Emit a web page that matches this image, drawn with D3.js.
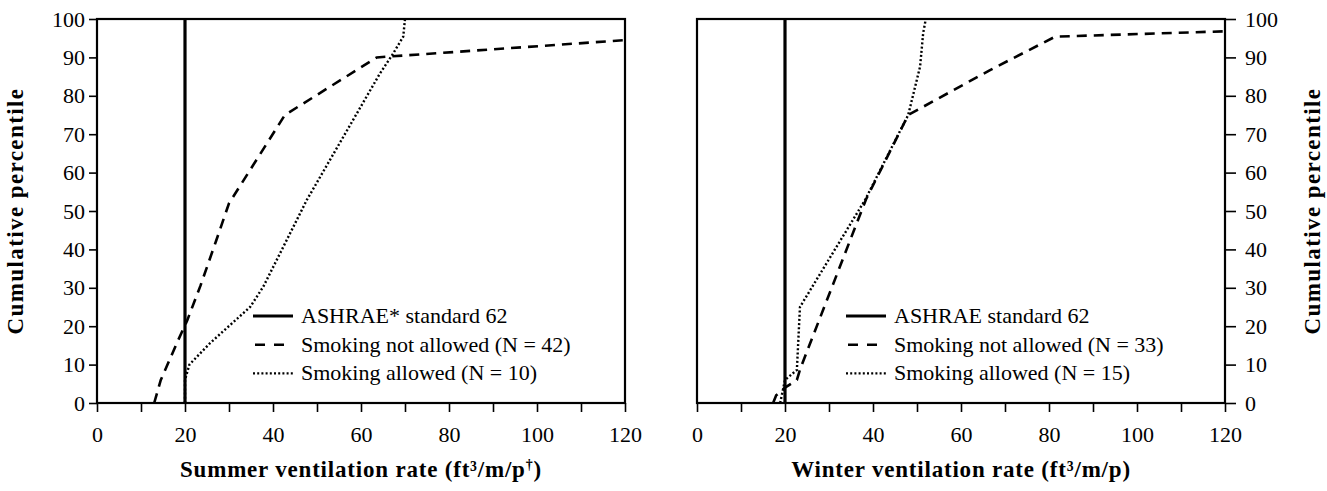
<!DOCTYPE html>
<html>
<head>
<meta charset="utf-8">
<script src="https://cdn.jsdelivr.net/npm/d3@7/dist/d3.min.js"></script>
<style>
body { margin: 0; background: #fff; }
text { font-family: 'Liberation Serif', 'Times New Roman', serif; fill: #000; }
</style>
</head>
<body>
<svg></svg>
<script>
'use strict'

// ventilation rate (ft3/m/p) vs cumulative percentile
const xTickValues = [0, 10, 20, 30, 40, 50, 60, 70, 80, 90, 100, 110, 120]
const xTickLabels = [0, 20, 40, 60, 80, 100, 120]
const yTickValues = [0, 10, 20, 30, 40, 50, 60, 70, 80, 90, 100]
const ashraeRate = 20

const summerNoSmoking = [[13, 0], [14.5, 6], [18.5, 16.5], [20.5, 21.5], [23.5, 30.5], [27, 42], [30, 52],
	[42.7, 75], [63.6, 90], [120, 94.5]]
const summerSmoking = [[20, 0], [20, 6], [21, 10], [25.7, 15.6], [34.8, 25], [37.8, 30.3], [47.7, 52.9],
	[64.3, 85.8], [67.3, 91], [69.6, 95.4], [70, 100]]
const winterNoSmoking = [[17.3, 0], [18, 2], [20, 4], [22.7, 6], [23.5, 9], [38.4, 53], [48, 75],
	[66.6, 86.7], [81.4, 95.4], [120, 96.8]]
const winterSmoking = [[18.9, 0], [20, 6], [22.7, 8.6], [23.4, 25], [38.2, 52.9], [48, 75],
	[50.7, 87.6], [51.4, 96.3], [52, 100]]

const summerLegend = ['ASHRAE* standard 62', 'Smoking not allowed (N = 42)', 'Smoking allowed (N = 10)']
const winterLegend = ['ASHRAE standard 62', 'Smoking not allowed (N = 33)', 'Smoking allowed (N = 15)']

let width = 1327,
	height = 491

let svg = d3.select('svg')
	.attr('width', width)
	.attr('height', height)

let plotTop = 19,
	plotBottom = 403,
	plotW = 528

let y = d3.scaleLinear().domain([0, 100]).range([plotBottom, plotTop])

let styles = [
	{ width: 3.2, dash: null },
	{ width: 2.6, dash: '10,7' },
	{ width: 2.4, dash: '2,2.2' }
]

function drawPanel(opts) {

	let x = d3.scaleLinear().domain([0, 120]).range([opts.left, opts.left + plotW])

	let g = svg.append('g')

	let line = d3.line()
		.x(function(d) { return x(d[0]) })
		.y(function(d) { return y(d[1]) })

	// x axis
	let xAxis = g.append('g')
		.attr('transform', 'translate(0,' + plotBottom + ')')
		.call(d3.axisBottom(x)
			.tickValues(xTickValues)
			.tickSize(9)
			.tickPadding(14)
			.tickFormat(function(d) { return xTickLabels.indexOf(d) >= 0 ? d : '' }))
	xAxis.select('.domain').remove()
	xAxis.selectAll('line').attr('stroke-width', 1.6)
	xAxis.selectAll('text').style('font-size', '22px')

	// y axis, left or right
	let yAx = opts.yRight ? d3.axisRight(y) : d3.axisLeft(y)
	let yAxis = g.append('g')
		.attr('transform', 'translate(' + (opts.yRight ? opts.left + plotW : opts.left) + ',0)')
		.call(yAx.tickValues(yTickValues).tickSize(opts.yRight ? 11 : 8).tickPadding(opts.yRight ? 9 : 4))
	yAxis.select('.domain').remove()
	yAxis.selectAll('line').attr('stroke-width', 1.6)
	yAxis.selectAll('text').style('font-size', '22px')

	// curves
	g.append('path')
		.datum(opts.noSmoking)
		.attr('d', line)
		.attr('fill', 'none')
		.attr('stroke', '#000')
		.attr('stroke-width', styles[1].width)
		.attr('stroke-dasharray', styles[1].dash)

	g.append('path')
		.datum(opts.smoking)
		.attr('d', line)
		.attr('fill', 'none')
		.attr('stroke', '#000')
		.attr('stroke-width', styles[2].width)
		.attr('stroke-dasharray', styles[2].dash)

	g.append('line')
		.attr('x1', x(ashraeRate))
		.attr('x2', x(ashraeRate))
		.attr('y1', y(0))
		.attr('y2', y(100))
		.attr('stroke', '#000')
		.attr('stroke-width', styles[0].width)

	// frame
	g.append('rect')
		.attr('x', x(0))
		.attr('y', y(100))
		.attr('width', x(120) - x(0))
		.attr('height', y(0) - y(100))
		.attr('fill', 'none')
		.attr('stroke', '#000')
		.attr('stroke-width', 2.2)

	// legend
	let leg = g.append('g')
		.attr('transform', 'translate(' + opts.legendX + ',0)')
		.selectAll('g')
		.data(opts.legend)
		.enter().append('g')
		.attr('transform', function(d, i) { return 'translate(0,' + (316 + i * 28.7) + ')' })

	leg.append('line')
		.attr('x1', 0)
		.attr('x2', 40)
		.attr('stroke', '#000')
		.attr('stroke-width', function(d, i) { return styles[i].width })
		.attr('stroke-dasharray', function(d, i) { return i === 1 ? '10,9' : styles[i].dash })
		.attr('stroke-dashoffset', function(d, i) { return i === 1 ? -2 : 0 })

	leg.append('text')
		.attr('x', 48)
		.attr('y', 7)
		.style('font-size', '22px')
		.text(function(d) { return d })

	// x title
	let xt = g.append('text')
		.attr('x', x(60))
		.attr('y', 477)
		.attr('text-anchor', 'middle')
		.style('font-size', '23px')
		.style('font-weight', 'bold')
		.style('letter-spacing', '0.8px')
	xt.append('tspan').text(opts.title + ' (ft³/m/p')
	if (opts.dagger) {
		xt.append('tspan').attr('dy', -8).style('font-size', '14px').text('†')
		xt.append('tspan').attr('dy', 8).text(')')
	} else {
		xt.append('tspan').text(')')
	}

	// y title
	g.append('text')
		.attr('transform', 'translate(' + opts.yTitleX + ',' + (y(50)) + ') rotate(-90)')
		.attr('text-anchor', 'middle')
		.style('font-size', '23px')
		.style('font-weight', 'bold')
		.style('letter-spacing', '1.4px')
		.text('Cumulative percentile')
}

drawPanel({
	left: 97, yRight: false, noSmoking: summerNoSmoking, smoking: summerSmoking,
	legend: summerLegend, legendX: 253, title: 'Summer ventilation rate', dagger: true, yTitleX: 23
})

drawPanel({
	left: 697, yRight: true, noSmoking: winterNoSmoking, smoking: winterSmoking,
	legend: winterLegend, legendX: 846, title: 'Winter ventilation rate', dagger: false, yTitleX: 1320
})
</script>
</body>
</html>
